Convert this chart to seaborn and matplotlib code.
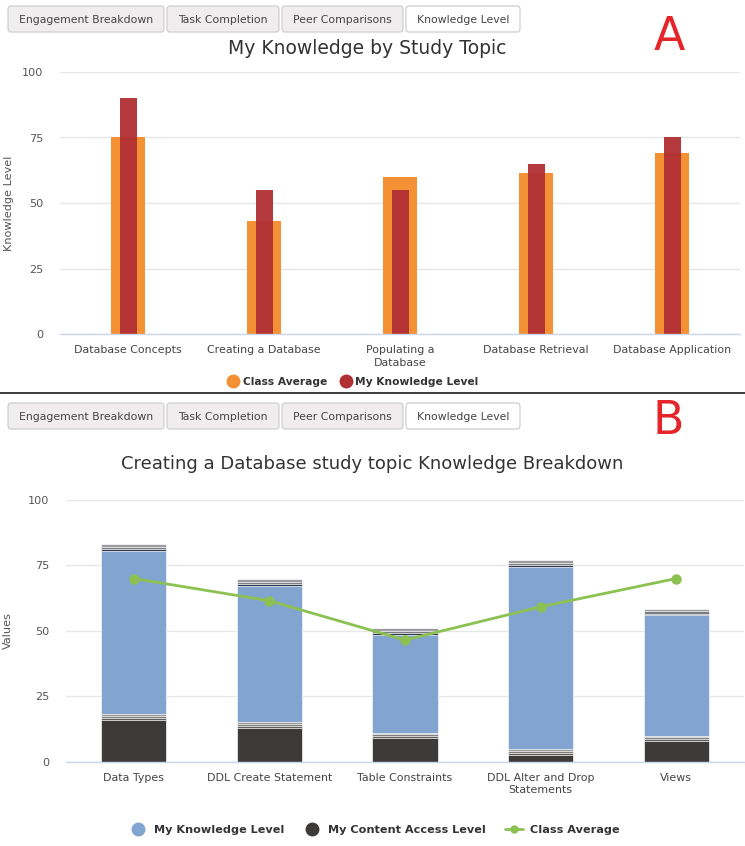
import matplotlib
matplotlib.use("Agg")
import matplotlib.pyplot as plt
from matplotlib.lines import Line2D
from matplotlib.patches import FancyBboxPatch
import seaborn as sns
import numpy as np

# ---- data: overview of study topics ----
topics = ["Database Concepts", "Creating a Database", "Populating a\nDatabase",
          "Database Retrieval", "Database Application"]
class_average = [75, 43, 60, 61.5, 69]
my_knowledge = [90, 55, 55, 65, 75]

# ---- data: breakdown of "Creating a Database" ----
subtopics = ["Data Types", "DDL Create Statement", "Table Constraints",
             "DDL Alter and Drop\nStatements", "Views"]
content_access = [16, 13, 9, 2.6, 8]
access_detail_1 = [0.7, 0.7, 0.7, 0.7, 0.7]
access_detail_2 = [0.7, 0.7, 0.7, 0.7, 0.7]
access_detail_3 = [0.7, 0.6, 0.6, 0.7, 0.6]
knowledge_level = [62.5, 52.3, 37.6, 69.8, 46.0]
knowledge_detail_1 = [0.6, 0.6, 0.6, 0.6, 0.6]
knowledge_detail_2 = [0.9, 0.9, 0.9, 0.9, 0.9]
knowledge_detail_3 = [1.0, 0.9, 0.9, 1.0, 0.9]
topic_class_average = [70, 61.5, 46.5, 59.2, 70]

tab_names = ["Engagement Breakdown", "Task Completion", "Peer Comparisons", "Knowledge Level"]

W, H = 745, 846
sns.set_theme(style="white")
plt.rcParams["font.family"] = ["DejaVu Sans"]

fig = plt.figure(figsize=(W / 100, H / 100), dpi=100)
fig.patch.set_facecolor("white")


def px(x, y):
    return (x / W, 1 - y / H)


def axes_box(left, top, right, bottom):
    return [left / W, 1 - bottom / H, (right - left) / W, (bottom - top) / H]


ORANGE = "#f39134"
RED = "#b02f33"
BLUE = "#81a5d0"
DARK = "#3d3a3a"
GREEN = "#8cc152"
GRID = "#e6e6e6"
AXIS = "#ccd6eb"
LABEL = "#555555"


def draw_tabs(y_top, y_bot):
    edges = [(8, 164), (167, 279), (282, 403), (406, 520)]
    for i, ((x0, x1), name) in enumerate(zip(edges, tab_names)):
        active = i == len(tab_names) - 1
        x0f, y0f = px(x0, y_bot)
        x1f, y1f = px(x1, y_top)
        patch = FancyBboxPatch((x0f, y0f), x1f - x0f, y1f - y0f,
                               boxstyle="round,pad=0,rounding_size=0.004",
                               transform=fig.transFigure,
                               facecolor="white" if active else "#efeded",
                               edgecolor="#cfcfcf", linewidth=0.9)
        fig.patches.append(patch)
        fig.text(*px((x0 + x1) / 2, (y_top + y_bot) / 2 + 1), name,
                 ha="center", va="center", fontsize=7.8, color="#444444")


def style_axes(ax, ylabel, label_x_px, left_px, width_px):
    ax.set_ylim(0, 100)
    ax.set_xlim(-0.5, 4.5)
    ax.set_yticks([0, 25, 50, 75, 100])
    ax.yaxis.grid(True, color=GRID, linewidth=1)
    ax.set_axisbelow(True)
    for s in ["top", "right", "left"]:
        ax.spines[s].set_visible(False)
    ax.spines["bottom"].set_color(AXIS)
    ax.spines["bottom"].set_linewidth(1)
    ax.set_xticks(np.arange(-0.5, 5, 1), minor=True)
    ax.tick_params(axis="x", which="minor", length=10, color=AXIS, width=1)
    ax.tick_params(axis="x", which="major", length=0, pad=8, labelsize=7.9,
                   labelcolor="#444444")
    ax.tick_params(axis="y", length=0, pad=12, labelsize=8.1, labelcolor=LABEL)
    ax.set_xlabel("")
    ax.set_ylabel(ylabel, fontsize=8.1, color=LABEL)
    ax.yaxis.set_label_coords((label_x_px - left_px) / width_px, 0.5)
    for lab in ax.get_xticklabels():
        lab.set_linespacing(1.3)


# ---------------- Panel A ----------------
draw_tabs(6, 32)
fig.text(*px(367, 48), "My Knowledge by Study Topic", ha="center", va="center",
         fontsize=13.5, color="#333333")
fig.text(*px(669, 37), "A", ha="center", va="center", fontsize=33,
         color="#e4262b")

axA = fig.add_axes(axes_box(60, 72, 740, 334))
sns.barplot(x=topics, y=class_average, color=ORANGE, saturation=1, width=0.25,
            ax=axA, linewidth=0)
sns.barplot(x=topics, y=my_knowledge, color=RED, saturation=1, width=0.125,
            ax=axA, linewidth=0, alpha=0.95)
style_axes(axA, "Knowledge Level", 14, 60, 680)

legA = [Line2D([], [], marker="o", ls="", color=ORANGE, markersize=9),
        Line2D([], [], marker="o", ls="", color=RED, markersize=9)]
fig.legend(legA, ["Class Average", "My Knowledge Level"], loc="center",
           bbox_to_anchor=px(353, 382), ncol=2, frameon=False,
           prop=dict(weight="bold", size=7.7), handletextpad=0.35,
           columnspacing=1.2, handlelength=1.1, labelcolor="#333333")

# separator between panels
fig.add_artist(Line2D([0, 1], [1 - 393 / H] * 2, transform=fig.transFigure,
                      color="#3a3a3a", linewidth=1.4))

# ---------------- Panel B ----------------
draw_tabs(403, 429)
fig.text(*px(372, 464), "Creating a Database study topic Knowledge Breakdown",
         ha="center", va="center", fontsize=13, color="#333333")
fig.text(*px(668, 421), "B", ha="center", va="center", fontsize=33,
         color="#e4262b")

axB = fig.add_axes(axes_box(66, 500, 744, 761.7))
layers = [
    (content_access, DARK),
    (access_detail_1, "#5f5c5c"),
    (access_detail_2, "#7f7d7d"),
    (access_detail_3, "#9a9898"),
    (knowledge_level, BLUE),
    (knowledge_detail_1, "#2f3a4f"),
    (knowledge_detail_2, "#7c7d82"),
    (knowledge_detail_3, "#9c9ca0"),
]
tops = np.cumsum([np.array(v, float) for v, _ in layers], axis=0)
# paint from the tallest cumulative layer down so each segment shows its own band
for (vals, col), top in reversed(list(zip(layers, tops))):
    sns.barplot(x=subtopics, y=top, color=col, saturation=1, width=0.48,
                ax=axB, edgecolor="white", linewidth=0.5)
sns.pointplot(x=subtopics, y=topic_class_average, color=GREEN, ax=axB,
              markers="o", markersize=6, linewidth=2)
style_axes(axB, "Values", 13, 66, 678)

legB = [Line2D([], [], marker="o", ls="", color=BLUE, markersize=9),
        Line2D([], [], marker="o", ls="", color=DARK, markersize=9),
        Line2D([], [], marker="o", ls="-", color=GREEN, markersize=5, linewidth=2)]
fig.legend(legB, ["My Knowledge Level", "My Content Access Level", "Class Average"],
           loc="center", bbox_to_anchor=px(374, 830), ncol=3, frameon=False,
           prop=dict(weight="bold", size=8.1), handletextpad=0.6,
           columnspacing=1.7, handlelength=1.6, labelcolor="#333333")

fig.savefig("out.png", dpi=100, facecolor="white")
